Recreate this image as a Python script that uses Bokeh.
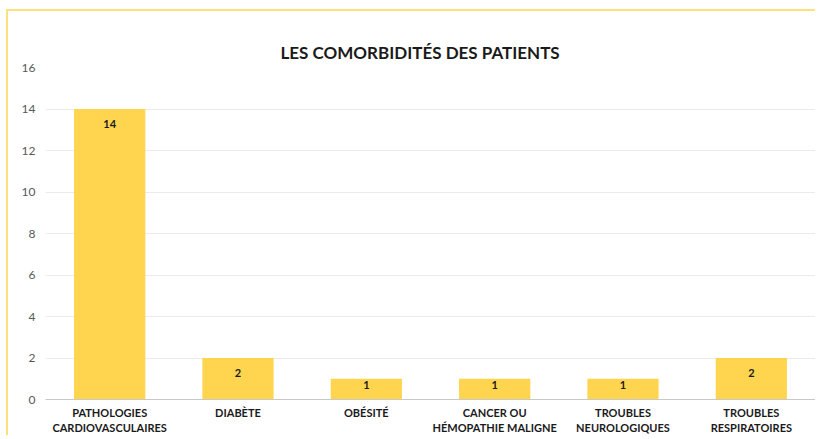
from bokeh.plotting import figure
from bokeh.models import ColumnDataSource, FactorRange, SingleIntervalTicker, Title
from bokeh.core.properties import value
from bokeh.embed import file_html
from bokeh.resources import INLINE

categories = ["PATHOLOGIES\nCARDIOVASCULAIRES", "DIABÈTE", "OBÉSITÉ",
              "CANCER OU\nHÉMOPATHIE MALIGNE", "TROUBLES\nNEUROLOGIQUES", "TROUBLES\nRESPIRATOIRES"]
counts = [14, 2, 1, 1, 1, 2]
labels = [str(c) for c in counts]

FONT = "Lato"
offsets = [15 if c >= 2 else 6 for c in counts]
src = ColumnDataSource(dict(cat=categories, val=counts, lab=labels, off=offsets))

p = figure(x_range=FactorRange(*categories, range_padding=0.0), y_range=(0, 16),
           width=809, height=426, output_backend="svg", toolbar_location=None,
           min_border_left=37, min_border_right=2, min_border_top=56, min_border_bottom=34)
p.styles = {"border-top": "2px solid #FFE07A", "border-left": "2px solid #FFE07A",
            "margin-left": "6px", "margin-top": "9px"}

# spacer title nearest the frame, real title above it
p.title = Title(text="\u00a0", text_font_size="8px")
p.add_layout(Title(text="LES COMORBIDITÉS DES PATIENTS", align="left", offset=235,
                   text_font=FONT, text_font_size="17px", text_font_style="bold",
                   text_color="#1a1a1a"), "above")

p.vbar(x="cat", top="val", width=0.555, source=src, color="#FFD54F", line_color=None)
p.text(x="cat", y="val", text="lab", y_offset="off", source=src,
       text_align="center", text_baseline="middle", text_font=value(FONT),
       text_font_size="11px", text_font_style="bold", text_color="#1a1a1a")

p.outline_line_color = None
p.xgrid.grid_line_color = None
p.ygrid.grid_line_color = "#EBEBEB"
p.yaxis.ticker = SingleIntervalTicker(interval=2)
p.yaxis.axis_line_color = None
p.yaxis.major_tick_line_color = None
p.yaxis.minor_tick_line_color = None
p.yaxis.major_label_text_font = FONT
p.yaxis.major_label_text_font_size = "12px"
p.yaxis.major_label_text_color = "#595959"
p.yaxis.major_label_standoff = 4

p.xaxis.axis_line_color = "#C8C8C8"
p.xaxis.major_tick_line_color = None
p.xaxis.minor_tick_line_color = None
p.xaxis.major_label_text_font = FONT
p.xaxis.major_label_text_font_size = "11px"
p.xaxis.major_label_text_font_style = "bold"
p.xaxis.major_label_text_color = "#1a1a1a"
p.xaxis.major_label_standoff = 0

open("out.html", "w").write(file_html(p, INLINE))
